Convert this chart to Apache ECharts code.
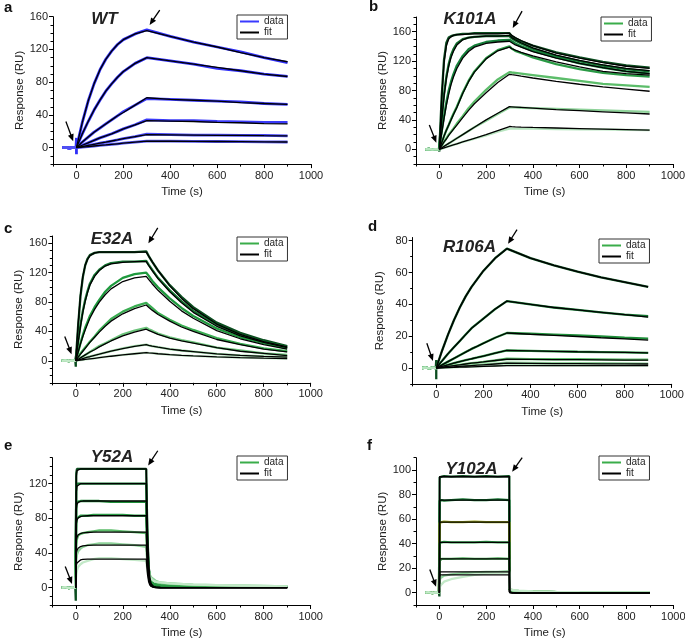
<!DOCTYPE html>
<html><head><meta charset="utf-8">
<script src="https://cdn.jsdelivr.net/npm/echarts@6/dist/echarts.min.js"></script>
<style>html,body{margin:0;padding:0;background:#fff}#c{width:685px;height:641px}</style>
</head><body><div id="c"></div>
<script>
// ================= DATA =================
const xMajorTicks = [0,200,400,600,800,1000];
const xMinorTicks = [-100,100,300,500,700,900];
const baseT = [-60,-45,-30,-15,-2];

// ---- a: WT ----
const timeA = [0,25,50,75,100,125,150,175,200,250,300,400,500,600,700,800,900];
const fitA = [
 [0,31,57,78,95,108,118,126,132,139,143,136,129,123,116,110,105],
 [0,17,32,46,58,69,78,86,93,103,110,106,102,98,94,90,87],
 [0,7,13,19,24,29,34,39,43,52,61,59,58,57,55,54,53],
 [0,3,6,9,12,14.5,17,20,23,28,33,32.5,32,31,30.5,29.5,29],
 [0,1.4,2.8,4.2,5.5,6.8,8.2,9.5,11,13.5,16,15.8,15.5,15.2,15,14.7,14.5],
 [0,0.7,1.4,2.1,2.8,3.4,4.1,4.8,5.5,6.8,8,7.9,7.8,7.6,7.4,7.2,7]
];
const dataA = [
 [0,31,57,78,95,108,118,126,132,139,144,136,129,123,117,110,104],
 [0,17,32,46,58,69,78,86,93,103,110,106,102,97,94,90,87],
 [0,7,13,19,24,29,34,39,44,52,60,59,58,57,56,54,53],
 [0,3,6,9,12,14.5,17,20,23,28,34,33,33,32,31.5,31,31],
 [0,1.4,2.8,4.2,5.5,6.8,8.2,9.5,11,13.5,16.5,16,15.5,15.5,15,15,14.5],
 [0,0.7,1.4,2.1,2.8,3.4,4.1,4.8,5.5,6.8,8,8,7.8,7.6,7.4,7.2,7]
];
const baseA = [0,0.5,-0.4,0.3,0];
const spikeA = [12,-8];
const yTicksA = [0,40,80,120,160];
const arrowsA = [[-45,32,-14,8],[355,168,312,150]];

// ---- b: K101A ----
const timeB = [0,10,20,30,40,50,60,75,100,125,150,200,250,300,310,325,350,400,500,600,700,800,900];
const fitB = [
 [0,70,118,141,150,153,155,156,156,157,157,157,157,158,155,152,148,141,131,124,118,113,110],
 [0,40,72,96,113,125,133,142,149,152,153,154,154,155,152,149,145,138,128,121,115,110,107],
 [0,22,42,60,75,88,98,110,124,133,139,144,146,147,145,142,139,133,124,117,111,106,103],
 [0,9,18,26,33,40,47,57,76,92,105,123,134,139,137,135,132,127,119,112,106,103,101],
 [0,5,10,14,19,23,27,33,43,53,62,77,91,102,101.5,101,99.5,97,92.5,88.5,85,82,79],
 [0,2,4,6,8,10,12,15,20,25,30,40,49,58,57.8,57.5,57,56,54,52.5,51,49.5,48],
 [0,1,2,3,4,5,6,7.5,10,12.5,15,20,25.5,31,30.8,30.6,30.3,29.8,29,28.2,27.5,26.8,26]
];
const dataB = [
 [0,72,122,145,152,154,155,156,157,157,158,158,158,158,154,151,147,141,132,125,119,114,111],
 [0,42,75,99,116,128,136,144,150,152,153,154,154,154,151,148,144,137,127,120,114,109,106],
 [0,24,45,64,80,92,102,114,127,136,141,146,148,149,147,144,140,134,125,117,111,106,103],
 [0,9,18,26,33,41,48,58,77,93,106,124,135,140,137,134,131,125,116,109,104,101,99],
 [0,5,10,15,20,24,28,35,45,56,65,81,95,105,104.5,104,103,101,97,93,89,87,85],
 [0,2,4,6,8,10,12,15,20,25,30,39,48,57,57,57,56.5,56,55,54,53,52,51],
 [0,1,2,3,4,5,6,7.5,10,12,14.5,19,24,28,28,28,28,28,27.5,27,27,26.5,26]
];
const baseB = [0,0.4,-0.3,0.2,0];
const spikeB = [-3];
const yTicksB = [0,40,80,120,160];
const arrowsB = [[-43,33,-13,9],[354,188,314,165]];

// ---- c: E32A ----
const timeC = [0,10,20,30,40,50,60,80,100,125,150,200,250,300,310,325,350,400,450,500,600,700,800,900];
const fitC = [
 [0,50,90,115,130,138,143,147,148,148,148,148,148,148,143,135,123,102,85,71,50,36,26,19],
 [0,25,47,66,81,93,103,115,123,129,132,134,135,135,130,123,112,94,79,66,47,34,25,18],
 [0,12,23,33,42,50,58,70,80,90,98,108,113,115,111,105,96,81,68,58,41,30,22,16],
 [0,5,9,13,17,21,25,32,39,47,54,64,71,76,73,69,63,54,46,40,29,22,16,12],
 [0,2,4,6,8,10,12,15,19,23,27,34,39,43,41.5,39.5,36,31,27,24,18,13,10,7],
 [0,1,2,3,4,5,5.5,7.5,9,11,13,16.5,19.5,22,21,20,18.5,16,14,12.5,9.5,7.5,6,5],
 [0,0.5,1,1.4,1.8,2.2,2.6,3.4,4.2,5.2,6.2,8,9.6,11,10.7,10.3,9.6,8.5,7.5,6.7,5.3,4.3,3.5,3]
];
const dataC = [
 [0,48,88,114,130,139,144,147,148,148,148,148,148,149,143,135,123,103,87,73,52,38,28,20],
 [0,26,49,68,83,95,105,117,124,130,133,135,135,136,131,124,113,96,81,68,49,35,26,19],
 [0,12,24,35,45,53,61,73,83,94,102,113,118,120,116,109,100,85,72,61,44,32,24,17],
 [0,5,10,14,18,22,26,33,41,49,57,67,74,79,76,72,65,56,48,42,31,23,17,13],
 [0,2,4,6,8,10,12,16,20,24,28,36,41,45,43,41,37,32,28,25,18,14,10,8],
 [0,1,2,3,4,5,6,7.5,9,11,13,17,20,22,21,20,18.5,16,14,12.5,9.5,7.5,6,5],
 [0,0.5,1,1.4,1.8,2.2,2.6,3.4,4.2,5.2,6.2,8,9.6,11,10.7,10.3,9.6,8.5,7.5,6.7,5.3,4.3,3.5,3]
];
const baseC = [0,0.6,-0.5,0.4,0];
const spikeC = [-8];
const yTicksC = [0,40,80,120,160];
const arrowsC = [[-47,33,-18,9],[349,181,309,160]];

// ---- d: R106A ----
const timeD = [0,25,50,75,100,125,150,175,200,250,300,400,500,600,700,800,900];
const fitD = [
 [0,11,21,30,38,45,51,56,61,69,75,69,64.5,60.5,57,54,51],
 [0,4.5,9,13,17,21,25,28,31,37,42,40,38,36.5,35,33.5,32],
 [0,2,4,6,8,10,12,13.7,15.5,19,22,21.2,20.5,19.8,19,18.3,17.5],
 [0,1,2,3,4,4.9,5.8,6.6,7.5,9.3,11,10.8,10.5,10.2,10,9.8,9.5],
 [0,0.5,1,1.5,2,2.5,3,3.4,3.8,4.7,5.5,5.4,5.3,5.2,5.1,5,5],
 [0,0.25,0.5,0.75,1,1.25,1.5,1.75,2,2.5,3,2.9,2.8,2.7,2.6,2.55,2.5],
 [0,0.12,0.25,0.37,0.5,0.62,0.75,0.87,1,1.25,1.5,1.5,1.5,1.5,1.5,1.5,1.5]
];
const dataD = [
 [0,11,21,30,38,45,51,56,61,69,75,69,64.5,60.5,57,54,51],
 [0,4.5,9,13,17,21,25,28,31,37,42,40,38,36.5,35,33.5,32.5],
 [0,2,4,6,8,10,12,13.7,15.5,19,22,21.5,21,20.5,19.8,19,18.5],
 [0,1,2,3,4,4.9,5.8,6.6,7.5,9.3,11,10.8,10.5,10.2,10,9.8,9.5],
 [0,0.5,1,1.5,2,2.5,3,3.4,3.8,4.7,5.8,5.6,5.5,5.5,5.4,5.3,5.2],
 [0,0.3,0.6,0.9,1.2,1.5,1.8,2,2.3,2.8,3.3,3.2,3.1,3,3,2.9,2.8],
 [0,0.15,0.3,0.45,0.6,0.75,0.9,1,1.2,1.5,1.8,1.8,1.7,1.7,1.7,1.6,1.6]
];
const baseD = [0,0.3,-0.3,0.2,0];
const spikeD = [5,-7];
const yTicksD = [0,20,40,60,80];
const arrowsD = [[-40,15.5,-14,4.4],[343,87,305,78]];

// ---- e: Y52A ----
const timeE = [0,2,5,10,20,30,50,75,100,150,200,250,300,302,305,310,315,320,330,340,360,400,500,600,700,800,900];
const fitE = [
 [0,128,135,136.5,137,137,137,137,137,137,137,137,137,105,65,28,12,5,1.5,0.5,0.2,0,0,0,0,0,0],
 [0,110,117,119,120,120,120,120,120,120,120,120,120,92,57,25,10,4,1.3,0.4,0.2,0,0,0,0,0,0],
 [0,90,96,98.5,99.5,100,100,100,100,100,100,100,100,77,48,21,8,3.5,1.1,0.4,0.1,0,0,0,0,0,0],
 [0,73,78,80.5,82,82.5,83,83,83,83,83,83,83,64,40,17,7,3,1,0.3,0.1,0,0,0,0,0,0],
 [0,54,58,61,62.5,63.2,63.7,64,64,64,64,64,64,49,31,13,5,2,0.8,0.3,0.1,0,0,0,0,0,0],
 [0,40,43,45.5,47.5,48.3,48.8,49,49,49,49,49,49,38,24,10,4,1.6,0.6,0.2,0,0,0,0,0,0,0],
 [0,26,28.5,30.5,32,32.6,33,33,33,33,33,33,33,25,16,7,3,1.1,0.4,0.1,0,0,0,0,0,0,0]
];
const dataE = [
 [0,132,137,137,137,137,137,137,137,137,137,137,137,100,60,25,12,6,3,2,1.5,1,1,1,1,1,1],
 [0,116,120,120,120,120,120,120,120,120,120,120,120,88,53,23,11,6,3,2,1.5,1,1,1,1,1,1],
 [0,95,99,100,100,100,100,100,100,99,99,99,99,75,46,22,12,7,4,3,2.5,2,1.5,1.5,1,1,1],
 [0,75,80,82,83,83,83,84,84,84,84,83,83,63,40,20,12,8,5,4,3,2.5,2,1.5,1.5,1,1],
 [0,50,56,60,62,63,64,65,66,66,65,64,63,50,34,20,14,11,9,7,5.5,4.5,3,2.5,2,1.5,1.5],
 [0,32,38,42,45,47,49,50,51,51,50,49,47,38,28,20,15,12,10,8,6,5,3.5,3,2.5,2,1.5],
 [0,15,20,24,27,29,31,33,34,34,33,32,31,26,20,15,12,10,8,7,6,5,3.5,3,2.5,2,1.5]
];
const baseE = [0,0.5,-0.4,0.3,0];
const spikeE = [-15];
const yTicksE = [0,40,80,120];
const arrowsE = [[-45,24.5,-16,4.3],[349,158,308,141]];

// ---- f: Y102A ----
const timeF = [0,1,5,10,20,50,100,150,200,250,299,300,302,305,310,320,340,400,500,600,700,800,900];
const fitF = [
 [0,94.5,94.5,94.5,94.5,94.5,94.5,94.5,94.5,94.5,94.5,0.5,0.3,0.2,0.1,0,0,0,0,0,0,0,0],
 [0,75.5,75.5,75.5,75.5,75.5,75.5,75.5,75.5,75.5,75.5,0.4,0.3,0.2,0.1,0,0,0,0,0,0,0,0],
 [0,57.5,57.5,57.5,57.5,57.5,57.5,57.5,57.5,57.5,57.5,0.4,0.3,0.2,0.1,0,0,0,0,0,0,0,0],
 [0,41,41,41,41,41,41,41,41,41,41,0.3,0.2,0.1,0.1,0,0,0,0,0,0,0,0],
 [0,27.5,27.5,27.5,27.5,27.5,27.5,27.5,27.5,27.5,27.5,0.3,0.2,0.1,0,0,0,0,0,0,0,0,0],
 [0,17,17,17,17,17,17,17,17,17,17,0.2,0.1,0.1,0,0,0,0,0,0,0,0,0],
 [0,14.5,14.5,14.5,14.5,14.5,14.5,14.5,14.5,14.5,14.5,0.2,0.1,0,0,0,0,0,0,0,0,0,0]
];
const dataF = [
 [0,94,95,94.5,95,94.5,95,94.5,95,94.5,95,3,2.5,2,1.8,1.5,1.2,0.8,0.5,0.5,0.3,0.3,0.3],
 [0,75,75.5,75.5,75,75.5,76,75.5,75.5,76,75.5,2.5,2.2,2,1.8,1.5,1.2,0.8,0.5,0.4,0.3,0.3,0.3],
 [0,57,57.5,57.5,58,57.5,57.5,58,57.5,57.5,57.5,2.5,2.2,2,1.8,1.5,1.2,0.8,0.5,0.4,0.3,0.3,0.3],
 [0,40.5,41,41,41.5,41,41,41,41.5,41,41,2.5,2.2,2,1.8,1.5,1.2,0.8,0.5,0.4,0.3,0.3,0.3],
 [0,26,27,27.5,27.5,27.5,28,27.5,27.5,28,27.5,2.8,2.5,2.2,2,1.6,1.3,0.9,0.5,0.4,0.3,0.3,0.3],
 [0,10,12,13,14,15,16,16.5,17,17,17.5,3,2.5,2.3,2,1.8,1.5,1,0.6,0.4,0.3,0.3,0.3],
 [0,4,6,7.5,9,11,13,14.5,15.5,16,16.5,3.5,3,2.8,2.5,2,1.7,1,0.6,0.4,0.3,0.3,0.3]
];
const baseF = [0,0.4,-0.4,0.3,0];
const spikeF = [-3];
const yTicksF = [0,20,40,60,80,100];
const arrowsF = [[-41,19,-14,4.9],[354,110,311,98.6]];

const letters = ['a','b','c','d','e','f'];
const titles = ['WT','K101A','E32A','R106A','Y52A','Y102A'];

// ================= STYLE / LAYOUT =================
const FONT = "'Liberation Sans', Arial, Helvetica, sans-serif";
const blues = ['#2f2ff8','#2f2ff8','#3535f8','#3a3af8','#4545f5','#5050f2'];
const greensB = ['#0b4d1f','#0f6a2a','#15803a','#2a9a45','#5cbd6a','#8fd39a','#b8e6c0'];
const greensC = ['#0b4d1f','#137530','#1f9a3e','#3aad52','#6cc47b','#9ad8a4','#c3e9c8'];
const greensD = ['#0b4d1f','#137530','#1f8f3a','#2a9a45','#5cbd6a','#8fd39a','#b8e6c0'];
const greensE = ['#0b4d1f','#137530','#1f8f3a','#2a9a45','#5cbd6a','#8fd39a','#c3e9c8'];
const greensF = ['#0b4d1f','#137530','#9aa31a','#2a9a45','#4caf5a','#8fd39a','#c3e9c8'];

const panels = [
 {time:timeA, fit:fitA, data:dataA, base:baseA, spike:spikeA, yTicks:yTicksA, arrows:arrowsA, yMin:-20, yMax:160, cols:blues, legCol:'#3a3aff', dataW:2.8,
  grid:{left:53,top:16.7,width:258,height:147.4}, leg:{left:237,top:15}, letter:[4,8], title:[104.5,19]},
 {time:timeB, fit:fitB, data:dataB, base:baseB, spike:spikeB, yTicks:yTicksB, arrows:arrowsB, yMin:-20, yMax:180, cols:greensB, legCol:'#3aad4a', dataW:2.3,
  grid:{left:416,top:17,width:257,height:147}, leg:{left:601,top:17}, letter:[369,7], title:[470,19]},
 {time:timeC, fit:fitC, data:dataC, base:baseC, spike:spikeC, yTicks:yTicksC, arrows:arrowsC, yMin:-30, yMax:170, cols:greensC, legCol:'#3aad4a', dataW:2.3,
  grid:{left:52.3,top:236,width:258.4,height:146.8}, leg:{left:237,top:237}, letter:[4,229], title:[112,239]},
 {time:timeD, fit:fitD, data:dataD, base:baseD, spike:spikeD, yTicks:yTicksD, arrows:arrowsD, yMin:-10, yMax:82, cols:greensD, legCol:'#3aad4a', dataW:2.3,
  grid:{left:412.7,top:237.5,width:259,height:146.4}, leg:{left:599,top:239}, letter:[368,227], title:[469.5,247.5]},
 {time:timeE, fit:fitE, data:dataE, base:baseE, spike:spikeE, yTicks:yTicksE, arrows:arrowsE, yMin:-20, yMax:150, cols:greensE, legCol:'#3aad4a', dataW:2.3,
  grid:{left:52.3,top:457.7,width:258.4,height:147.3}, leg:{left:237,top:456}, letter:[4,446], title:[112,457.5]},
 {time:timeF, fit:fitF, data:dataF, base:baseF, spike:spikeF, yTicks:yTicksF, arrows:arrowsF, yMin:-10, yMax:110, cols:greensF, legCol:'#3aad4a', dataW:2.3,
  grid:{left:416,top:457.7,width:257.3,height:147.3}, leg:{left:599,top:456}, letter:[367,446], title:[471.5,469]}
];

function minorTicks(min, max, step, majors) {
  const out = [];
  for (let v = Math.ceil(min/step)*step; v <= max + 1e-9; v += step) {
    if (!majors.some(m => Math.abs(m - v) < 1e-9)) out.push(v);
  }
  return out;
}
const plain = v => String(v);

const grids = [], xAxes = [], yAxes = [], series = [], legends = [];
panels.forEach((p, i) => {
  grids.push(Object.assign({outerBoundsMode:'none', containLabel:false}, p.grid));
  const axisTxt = {fontSize:11, color:'#222', fontFamily:FONT, formatter:plain};
  xAxes.push({type:'value', gridIndex:i, position:'bottom', min:-100, max:1000,
    axisLine:{show:true, onZero:false, lineStyle:{color:'#000', width:1}},
    axisTick:{show:true, length:4, customValues:xMajorTicks, lineStyle:{color:'#000', width:1}},
    axisLabel:Object.assign({customValues:xMajorTicks, margin:6}, axisTxt),
    splitLine:{show:false},
    name:'Time (s)', nameLocation:'middle', nameGap:22,
    nameTextStyle:{fontSize:11.5, color:'#222', fontFamily:FONT}});
  xAxes.push({type:'value', gridIndex:i, position:'bottom', min:-100, max:1000,
    axisLine:{show:false, onZero:false},
    axisTick:{show:true, length:2.5, customValues:xMinorTicks, lineStyle:{color:'#000', width:1}},
    axisLabel:{show:false}, splitLine:{show:false}});
  yAxes.push({type:'value', gridIndex:i, position:'left', min:p.yMin, max:p.yMax,
    axisLine:{show:true, onZero:false, lineStyle:{color:'#000', width:1}},
    axisTick:{show:true, length:4, customValues:p.yTicks, lineStyle:{color:'#000', width:1}},
    axisLabel:Object.assign({customValues:p.yTicks, margin:5}, axisTxt),
    splitLine:{show:false},
    name:'Response (RU)', nameLocation:'middle', nameGap:27, nameRotate:90,
    nameTextStyle:{fontSize:11.5, color:'#222', fontFamily:FONT}});
  yAxes.push({type:'value', gridIndex:i, position:'left', min:p.yMin, max:p.yMax,
    axisLine:{show:false, onZero:false},
    axisTick:{show:true, length:2.5, customValues:minorTicks(p.yMin, p.yMax, 10, p.yTicks), lineStyle:{color:'#000', width:1}},
    axisLabel:{show:false}, splitLine:{show:false}});

  // data series (coloured) under the fits
  p.data.forEach((vals, k) => {
    let pts = baseT.map((t, j) => [t, p.base[j]]);
    if (k === 0) pts = pts.concat(p.spike.map(v => [0, v]));
    pts = pts.concat(p.time.map((t, j) => [t, vals[j]]));
    series.push({type:'line', name:'data', xAxisIndex:2*i, yAxisIndex:2*i, data:pts,
      symbol:'none', showSymbol:false, silent:true, animation:false, z:2,
      lineStyle:{color:p.cols[k], width:p.dataW}, itemStyle:{color:p.cols[k]}});
  });
  p.fit.forEach((vals) => {
    series.push({type:'line', name:'fit', xAxisIndex:2*i, yAxisIndex:2*i,
      data:p.time.map((t, j) => [t, vals[j]]),
      symbol:'none', showSymbol:false, silent:true, animation:false, z:3,
      lineStyle:{color:'#000', width:1.3}, itemStyle:{color:'#000'}});
  });

  legends.push({orient:'vertical', left:p.leg.left, top:p.leg.top, selectedMode:false,
    icon:'rect', itemWidth:19, itemHeight:2, itemGap:0, padding:[1,4,1,3],
    borderColor:'#333', borderWidth:1, backgroundColor:'#fff',
    textStyle:{fontSize:10, color:'#222', fontFamily:FONT, lineHeight:11},
    data:[{name:'data', itemStyle:{color:p.legCol, borderWidth:0}},
          {name:'fit', itemStyle:{color:'#000', borderWidth:0}}]});
});

const chart = echarts.init(document.getElementById('c'), null, {renderer:'canvas'});
chart.setOption({animation:false, backgroundColor:'#fff', grid:grids, xAxis:xAxes, yAxis:yAxes, legend:legends, series:series});

// annotations: panel letters, titles, arrows (arrow positions converted from data coords)
const graphics = [];
panels.forEach((p, i) => {
  graphics.push({type:'text', x:p.letter[0], y:p.letter[1], silent:true,
    style:{text:letters[i], font:"bold 15px " + FONT, fill:'#111', textAlign:'left', textVerticalAlign:'middle'}});
  graphics.push({type:'text', x:p.title[0], y:p.title[1], silent:true,
    style:{text:titles[i], font:"italic bold 17px " + FONT, fill:'#222', textAlign:'center', textVerticalAlign:'middle'}});
  p.arrows.forEach(a => {
    const finder = {xAxisIndex:2*i, yAxisIndex:2*i};
    const t = chart.convertToPixel(finder, [a[0], a[1]]);
    const h = chart.convertToPixel(finder, [a[2], a[3]]);
    const dx = h[0]-t[0], dy = h[1]-t[1], L = Math.hypot(dx, dy);
    const ux = dx/L, uy = dy/L, hl = 7, hw = 3;
    const bx = h[0]-ux*hl, by = h[1]-uy*hl;
    graphics.push({type:'line', silent:true, shape:{x1:t[0], y1:t[1], x2:bx+ux, y2:by+uy}, style:{stroke:'#000', lineWidth:1.3}});
    graphics.push({type:'polygon', silent:true, shape:{points:[[h[0],h[1]],[bx-uy*hw,by+ux*hw],[bx+uy*hw,by-ux*hw]]}, style:{fill:'#000'}});
  });
});
chart.setOption({graphic:graphics});
</script>
</body></html>
